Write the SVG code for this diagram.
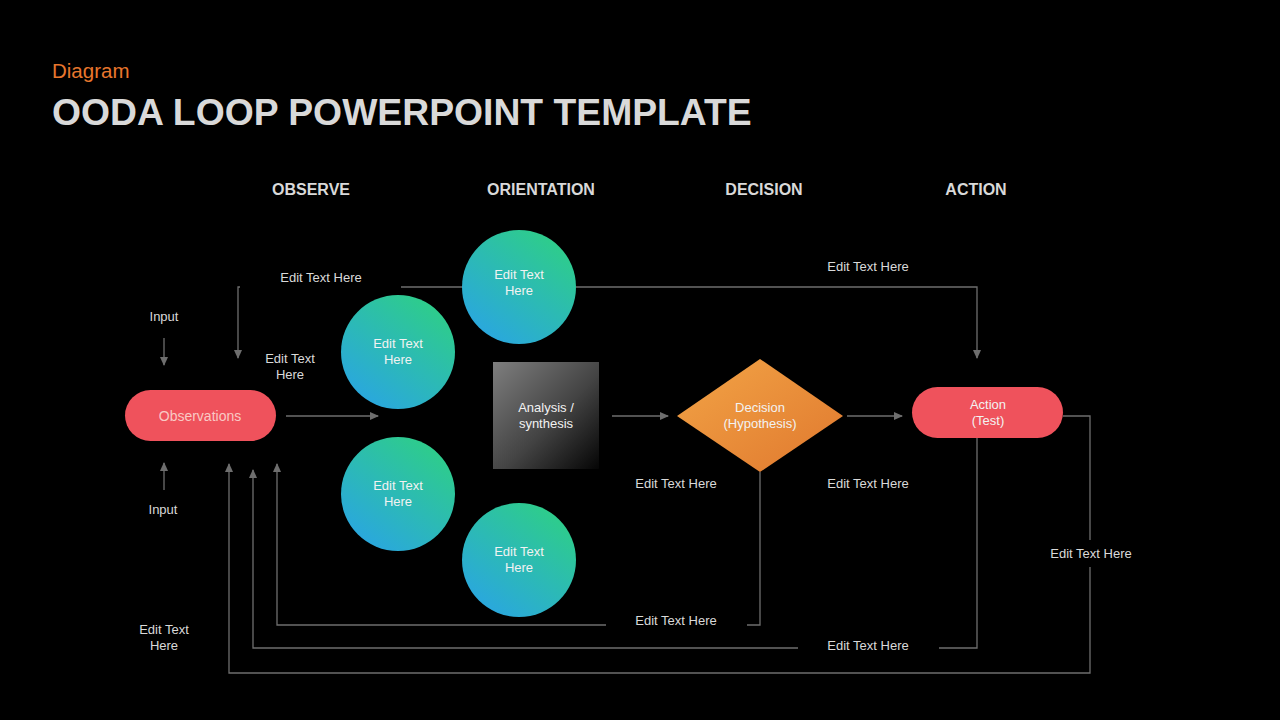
<svg xmlns="http://www.w3.org/2000/svg" width="1280" height="720" viewBox="0 0 1280 720">
<style>
text{font-family:"Liberation Sans",Arial,sans-serif}
.hdr{font-size:16px;font-weight:bold;fill:#d9d9d9;text-anchor:middle}
.lbl{font-size:13px;fill:#d9d9d9;text-anchor:middle}
.ntx{font-size:13px;fill:#f2f2f2;text-anchor:middle}
.ln{fill:none;stroke:#6e6e6e;stroke-width:1.3}
</style>
<defs>
<marker id="ah" markerWidth="10" markerHeight="10" refX="8" refY="5" orient="auto" markerUnits="userSpaceOnUse">
<path d="M0,1 L9,5 L0,9 Z" fill="#6e6e6e"/>
</marker>
<linearGradient id="gc" x1="0.2" y1="0.9" x2="0.8" y2="0.1">
<stop offset="0" stop-color="#2aa8dc"/>
<stop offset="1" stop-color="#2ecc8c"/>
</linearGradient>
<linearGradient id="gg" x1="0" y1="0" x2="1" y2="1">
<stop offset="0" stop-color="#7e7e7e"/>
<stop offset="0.55" stop-color="#444"/>
<stop offset="1" stop-color="#050505"/>
</linearGradient>
<linearGradient id="go" x1="0" y1="0" x2="1" y2="1">
<stop offset="0" stop-color="#f2a446"/>
<stop offset="1" stop-color="#e0782e"/>
</linearGradient>
</defs>
<rect width="1280" height="720" fill="#000"/>
<text x="52" y="78" font-size="20.5" fill="#e8762d">Diagram</text>
<text x="52" y="125" font-size="37.3" font-weight="bold" fill="#d9d9d9">OODA LOOP POWERPOINT TEMPLATE</text>
<g id="headers">
<text class="hdr" x="311" y="195">OBSERVE</text>
<text class="hdr" x="541" y="195">ORIENTATION</text>
<text class="hdr" x="764" y="195">DECISION</text>
<text class="hdr" x="976" y="195">ACTION</text>
</g>
<g id="connectors">
<path class="ln" d="M164,338 V365" marker-end="url(#ah)"/>
<path class="ln" d="M164,490 V463" marker-end="url(#ah)"/>
<path class="ln" d="M240,287 H238 V358" marker-end="url(#ah)"/>
<path class="ln" d="M401,287 H463"/>
<path class="ln" d="M576,287 H977 V358" marker-end="url(#ah)"/>
<path class="ln" d="M286,416 H378" marker-end="url(#ah)"/>
<path class="ln" d="M612,416 H668" marker-end="url(#ah)"/>
<path class="ln" d="M847,416 H902" marker-end="url(#ah)"/>
<path class="ln" d="M760,472 V625 H747"/>
<path class="ln" d="M606,625 H277 V464" marker-end="url(#ah)"/>
<path class="ln" d="M977,438 V648 H939"/>
<path class="ln" d="M798,648 H253 V470" marker-end="url(#ah)"/>
<path class="ln" d="M1063,416 H1090 V540"/>
<path class="ln" d="M1090,567 V673 H229 V464" marker-end="url(#ah)"/>
</g>
<g id="observations">
<rect x="125" y="390" width="151" height="51" rx="25.5" fill="#ef525c"/>
<text x="200" y="421" font-size="14" fill="#f9c9c4" text-anchor="middle">Observations</text>
</g>
<g id="circle-top">
<circle cx="519" cy="287" r="57" fill="url(#gc)"/>
<text class="ntx" x="519" y="279">Edit Text</text>
<text class="ntx" x="519" y="295">Here</text>
</g>
<g id="circle-upper">
<circle cx="398" cy="352" r="57" fill="url(#gc)"/>
<text class="ntx" x="398" y="348">Edit Text</text>
<text class="ntx" x="398" y="364">Here</text>
</g>
<g id="circle-lower">
<circle cx="398" cy="494" r="57" fill="url(#gc)"/>
<text class="ntx" x="398" y="490">Edit Text</text>
<text class="ntx" x="398" y="506">Here</text>
</g>
<g id="circle-bottom">
<circle cx="519" cy="560" r="57" fill="url(#gc)"/>
<text class="ntx" x="519" y="556">Edit Text</text>
<text class="ntx" x="519" y="572">Here</text>
</g>
<g id="analysis">
<rect x="493" y="362" width="106" height="107" fill="url(#gg)"/>
<text class="ntx" x="546" y="412" font-size="14" fill="#fff">Analysis /</text>
<text class="ntx" x="546" y="428" font-size="14" fill="#fff">synthesis</text>
</g>
<g id="decision">
<path d="M760,359 L843,416 L760,472 L677,416 Z" fill="url(#go)"/>
<text class="ntx" x="760" y="412" fill="#fbe3c9">Decision</text>
<text class="ntx" x="760" y="428" fill="#fbe3c9">(Hypothesis)</text>
</g>
<g id="action">
<rect x="912" y="387" width="151" height="51" rx="25.5" fill="#ef525c"/>
<text class="ntx" x="988" y="409" fill="#fbe0dc">Action</text>
<text class="ntx" x="988" y="425" fill="#fbe0dc">(Test)</text>
</g>
<g id="labels">
<text class="lbl" x="164" y="321">Input</text>
<text class="lbl" x="163" y="514">Input</text>
<text class="lbl" x="321" y="282">Edit Text Here</text>
<text class="lbl" x="290" y="363">Edit Text</text>
<text class="lbl" x="290" y="379">Here</text>
<text class="lbl" x="868" y="271">Edit Text Here</text>
<text class="lbl" x="676" y="488">Edit Text Here</text>
<text class="lbl" x="868" y="488">Edit Text Here</text>
<text class="lbl" x="1091" y="558">Edit Text Here</text>
<text class="lbl" x="676" y="625">Edit Text Here</text>
<text class="lbl" x="868" y="650">Edit Text Here</text>
<text class="lbl" x="164" y="634">Edit Text</text>
<text class="lbl" x="164" y="650">Here</text>
</g>
</svg>
